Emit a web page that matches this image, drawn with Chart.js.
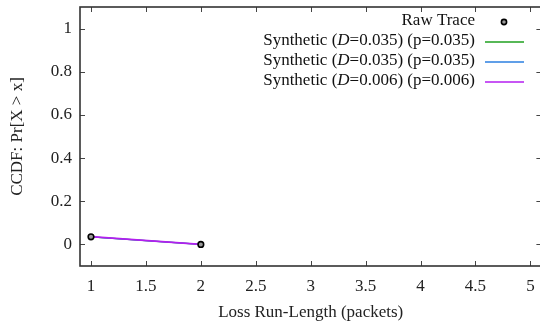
<!DOCTYPE html>
<html>
<head>
<meta charset="utf-8">
<script src="https://cdn.jsdelivr.net/npm/chart.js@4.4.1/dist/chart.umd.min.js"></script>
<style>
  html, body { margin: 0; padding: 0; background: #fff; overflow: hidden; }
  #wrap { width: 540px; height: 331px; overflow: hidden; }
</style>
</head>
<body>
<div id="wrap"><canvas id="ccdf" width="547" height="331"></canvas></div>
<script>
// Loss run-length CCDF
const runLengths = [1, 2];
const rawTrace = [0.035, 0];
const synthA = [0.035, 0];   // D=0.035, green
const synthB = [0.035, 0];   // D=0.035, blue
const synthC = [0.036, 0];   // D=0.006, purple

const xTicks = [1, 1.5, 2, 2.5, 3, 3.5, 4, 4.5, 5];
const yTicks = [0, 0.2, 0.4, 0.6, 0.8, 1];

const legendRows = [
    { pre: 'Raw Trace', d: '', post: '', kind: 'point' },
    { pre: 'Synthetic (', d: 'D', post: '=0.035) (p=0.035)', kind: 'line', color: '#1fa01f' },
    { pre: 'Synthetic (', d: 'D', post: '=0.035) (p=0.035)', kind: 'line', color: '#2b7fe0' },
    { pre: 'Synthetic (', d: 'D', post: '=0.006) (p=0.006)', kind: 'line', color: '#b41ef0' }
];

const FONT = 'Liberation Serif';
const FS = 17;
const pts = (ys) => runLengths.map((x, i) => ({ x: x, y: ys[i] }));

const lineSet = (label, ys, color, w) => ({
    label: label,
    data: pts(ys),
    showLine: true,
    borderColor: color,
    borderWidth: w,
    pointRadius: 0,
    fill: false
});

/* ── gnuplot style frame, inward ticks, key ── */
const framePlugin = {
    id: 'frame',
    afterDatasetsDraw(chart) {
        const { ctx, chartArea: a, scales } = chart;
        ctx.save();
        ctx.strokeStyle = '#444';
        ctx.lineWidth = 1;
        const t = 5;
        xTicks.forEach(v => {
            const px = Math.round(scales.x.getPixelForValue(v)) + 0.5;
            ctx.beginPath();
            ctx.moveTo(px, a.bottom); ctx.lineTo(px, a.bottom - t);
            ctx.moveTo(px, a.top); ctx.lineTo(px, a.top + t);
            ctx.stroke();
        });
        yTicks.forEach(v => {
            const py = Math.round(scales.y.getPixelForValue(v)) + 0.5;
            ctx.beginPath();
            ctx.moveTo(a.left, py); ctx.lineTo(a.left + t, py);
            ctx.moveTo(a.right, py); ctx.lineTo(a.right - t, py);
            ctx.stroke();
        });
        ctx.strokeStyle = '#333';
        ctx.lineWidth = 1.6;
        ctx.strokeRect(a.left, a.top, a.right - a.left, a.bottom - a.top);

        // key
        const textRight = 475, sx0 = 485, sx1 = 524;
        const normal = FS + 'px "' + FONT + '"';
        const italic = 'italic ' + normal;
        ctx.textBaseline = 'middle';
        ctx.textAlign = 'left';
        legendRows.forEach((r, i) => {
            const y = 21 + i * 20;
            ctx.fillStyle = '#111';
            ctx.font = normal;
            const wPre = ctx.measureText(r.pre).width;
            const wPost = ctx.measureText(r.post).width;
            ctx.font = italic;
            const wD = ctx.measureText(r.d).width;
            let x = textRight - wPost - wD - wPre;
            ctx.font = normal;
            ctx.fillText(r.pre, x, y); x += wPre;
            ctx.font = italic;
            ctx.fillText(r.d, x, y); x += wD;
            ctx.font = normal;
            ctx.fillText(r.post, x, y);
            if (r.kind === 'line') {
                ctx.strokeStyle = r.color;
                ctx.lineWidth = 1.5;
                ctx.beginPath();
                ctx.moveTo(sx0, y + 1); ctx.lineTo(sx1, y + 1);
                ctx.stroke();
            } else {
                ctx.beginPath();
                ctx.arc(504, y + 1, 2.6, 0, Math.PI * 2);
                ctx.fillStyle = '#999';
                ctx.fill();
                ctx.strokeStyle = '#000';
                ctx.lineWidth = 1.6;
                ctx.stroke();
            }
        });
        ctx.restore();
    }
};

new Chart(document.getElementById('ccdf'), {
    type: 'scatter',
    data: {
        datasets: [
            {
                label: 'Raw Trace',
                data: pts(rawTrace),
                pointStyle: 'circle',
                pointRadius: 2.8,
                pointBackgroundColor: '#999',
                pointBorderColor: '#000',
                pointBorderWidth: 1.6,
                showLine: false
            },
            lineSet('Synthetic (D=0.006) (p=0.006)', synthC, '#b41ef0', 1.8),
            lineSet('Synthetic (D=0.035) (p=0.035)', synthB, '#2b7fe0', 1.2),
            lineSet('Synthetic (D=0.035) (p=0.035)', synthA, '#1fa01f', 1.2)
        ]
    },
    options: {
        responsive: false,
        animation: false,
        devicePixelRatio: 1,
        layout: { padding: { top: 7, left: 0, right: 0, bottom: 0 } },
        plugins: {
            legend: { display: false },
            tooltip: { enabled: false }
        },
        scales: {
            x: {
                type: 'linear',
                min: 0.9,
                max: 5.1,
                afterBuildTicks: (s) => { s.ticks = xTicks.map(v => ({ value: v })); },
                afterFit: (s) => { s.height = 65; s.paddingLeft = 0; s.paddingRight = 0; },
                grid: { display: false, drawTicks: false },
                border: { display: false },
                ticks: {
                    padding: 10,
                    color: '#222',
                    font: { family: FONT, size: FS },
                    maxRotation: 0,
                    callback: (v) => String(v)
                },
                title: {
                    display: true,
                    text: 'Loss Run-Length (packets)',
                    color: '#222',
                    font: { family: FONT, size: FS },
                    padding: { top: 8, bottom: 8 }
                }
            },
            y: {
                type: 'linear',
                min: -0.1,
                max: 1.1,
                afterBuildTicks: (s) => { s.ticks = yTicks.map(v => ({ value: v })); },
                afterFit: (s) => { s.width = 80; s.paddingTop = 0; s.paddingBottom = 0; },
                grid: { display: false, drawTicks: false },
                border: { display: false },
                ticks: {
                    padding: 8,
                    color: '#222',
                    font: { family: FONT, size: FS },
                    callback: (v) => String(v)
                },
                title: {
                    display: true,
                    text: 'CCDF: Pr[X > x]',
                    color: '#222',
                    font: { family: FONT, size: FS },
                    padding: { top: 7, bottom: 0 }
                }
            }
        }
    },
    plugins: [framePlugin]
});
</script>
</body>
</html>
